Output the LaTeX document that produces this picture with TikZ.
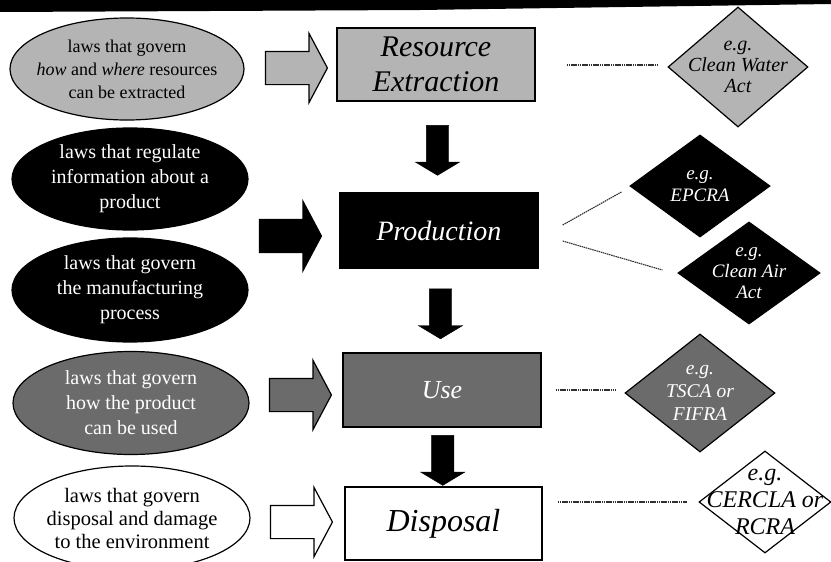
\documentclass[tikz,border=0pt]{standalone}
\usepackage{fontspec}
\setmainfont{Liberation Serif}[ItalicFont={Liberation Serif Italic},BoldFont={Liberation Serif Bold}]
\usetikzlibrary{shapes.geometric,shapes.arrows,calc}
\definecolor{lightg}{HTML}{B4B4B4}
\definecolor{darkg}{HTML}{6B6B6B}
\definecolor{dotc}{HTML}{303030}
\begin{document}
\begin{tikzpicture}[x=1pt,y=-1pt,
  ell/.style={ellipse,draw=black,line width=1.2pt,inner sep=0pt},
  box/.style={rectangle,draw=black,line width=1.3pt,inner sep=0pt},
  dia/.style={diamond,draw=black,line width=1.2pt,inner sep=0pt},
  rarrow/.style={single arrow,draw=black,line width=1.2pt,inner xsep=0pt,inner ysep=16pt,minimum width=68pt,minimum height=62pt,single arrow head extend=18pt,single arrow tip angle=124},
  darrow/.style={single arrow,fill=black,draw=black,inner xsep=0pt,inner ysep=11pt,minimum width=44pt,minimum height=50pt,single arrow head extend=11pt,single arrow tip angle=118,rotate=-90},
  conn/.style={draw=dotc,line width=1.1pt,dash pattern=on 1.5pt off 0.7pt},
  txt/.style={align=center,inner sep=0pt}
]
\useasboundingbox (0,0) rectangle (831,562);
\fill[white] (0,0) rectangle (831,562);
\fill[black] (0,0) -- (831,0) -- (831,4) -- (420,10) -- (0,12) -- cycle;

% ellipses
\node[ell,fill=lightg,minimum width=234pt,minimum height=102pt] (e1) at (127,69) {};
\node[ell,fill=black,minimum width=236pt,minimum height=102pt] (e2) at (130,179) {};
\node[ell,fill=black,minimum width=236pt,minimum height=104pt] (e3) at (130,290) {};
\node[ell,fill=darkg,minimum width=236pt,minimum height=103pt] (e4) at (131,403) {};
\node[ell,fill=white,minimum width=236pt,minimum height=104pt] (e5) at (132,518) {};

\node[txt,font=\fontsize{18}{23}\selectfont] at (e1) {laws that govern\\ \textit{how} and \textit{where} resources\\ can be extracted};
\node[txt,text=white,font=\fontsize{20}{25}\selectfont] at (e2) {laws that regulate\\ information about a\\ product};
\node[txt,text=white,font=\fontsize{20}{25}\selectfont] at (e3) {laws that govern\\ the manufacturing\\ process};
\node[txt,text=white,font=\fontsize{20}{25}\selectfont] at (e4) {laws that govern\\ how the product\\ can be used};
\node[txt,font=\fontsize{20.5}{23}\selectfont] at (e5) {laws that govern\\ disposal and damage\\ to the environment};

% boxes
\node[box,fill=lightg,minimum width=198pt,minimum height=73pt] (b1) at (436,64.5) {};
\node[box,fill=black,minimum width=198pt,minimum height=75pt] (b2) at (439,230.5) {};
\node[box,fill=darkg,minimum width=198pt,minimum height=74pt] (b3) at (442,390) {};
\node[box,fill=white,minimum width=197pt,minimum height=73pt] (b4) at (443.5,523.5) {};

\node[txt,font=\fontsize{30}{35}\selectfont\itshape] at (b1) {Resource\\ Extraction};
\node[txt,text=white,font=\fontsize{28}{32}\selectfont\itshape] at (b2) {Production};
\node[txt,text=white,font=\fontsize{26}{30}\selectfont\itshape] at (b3) {Use};
\node[txt,font=\fontsize{32}{36}\selectfont\itshape] at (b4) {Disposal};

% down arrows
\node[darrow] (da1) at ($(b1.south)!0.5!(b2.north)$) {};
\node[darrow] (da2) at ($(b2.south)!0.5!(b3.north)$) {};
\node[darrow] (da3) at ($(b3.south)!0.5!(b4.north)$) {};

% right arrows
\node[rarrow,fill=lightg] (ra1) at (292,68) {};
\node[rarrow,fill=black] (ra2) at (286,236) {};
\node[rarrow,fill=darkg] (ra3) at (296,395) {};
\node[rarrow,fill=white] (ra4) at (297,522) {};

% diamonds
\node[dia,fill=lightg,minimum width=140pt,minimum height=120pt] (d1) at (738,67) {};
\node[dia,fill=black,minimum width=140pt,minimum height=102pt] (d2) at (700,186) {};
\node[dia,fill=black,minimum width=142pt,minimum height=102pt] (d3) at (749,273) {};
\node[dia,fill=darkg,minimum width=150pt,minimum height=118pt] (d4) at (700,393) {};
\node[dia,fill=white,minimum width=132pt,minimum height=102pt] (d5) at (765,502) {};

\node[txt,font=\fontsize{20}{21}\selectfont\itshape] at (d1) {e.g.\\ Clean Water\\ Act};
\node[txt,text=white,font=\fontsize{19}{22}\selectfont\itshape] at (d2) {e.g.\\ EPCRA};
\node[txt,text=white,font=\fontsize{19}{21}\selectfont\itshape] at (d3) {e.g.\\ Clean Air\\ Act};
\node[txt,text=white,font=\fontsize{19.5}{23}\selectfont\itshape] at (d4) {e.g.\\ TSCA or\\ FIFRA};
\node[txt,font=\fontsize{24}{27}\selectfont\itshape] at (d5) {e.g.\\ CERCLA or\\ RCRA};

% dotted connectors
\draw[conn] ($(b1.east)+(31,0.5)$) -- ($(d1.west)+(-10,-2)$);
\draw[conn] ($(b2.east)+(24,-5.5)$) -- ($(d2.west)+(-8,6)$);
\draw[conn] ($(b2.east)+(24,10.5)$) -- ($(d3.west)+(-15,-3)$);
\draw[conn] ($(b3.east)+(14,0)$) -- ($(d4.west)+(-8,-3)$);
\draw[conn] ($(b4.east)+(15,-21.5)$) -- ($(d5.west)+(-11,0)$);
\end{tikzpicture}
\end{document}
